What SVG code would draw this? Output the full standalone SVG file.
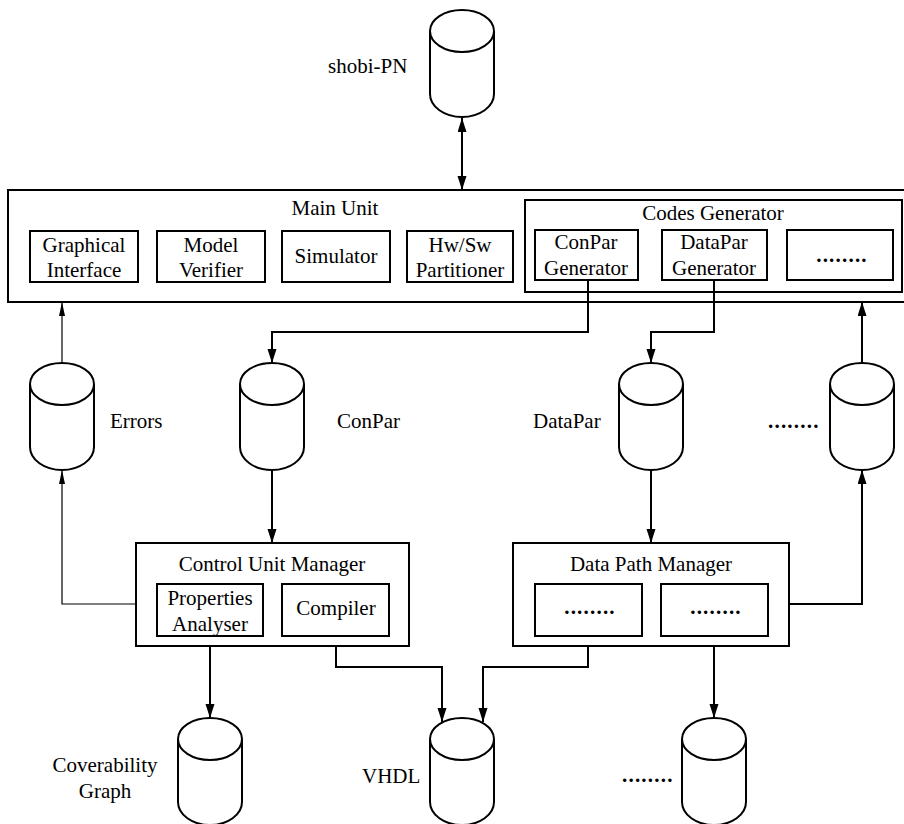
<svg xmlns="http://www.w3.org/2000/svg" width="904" height="824" viewBox="0 0 904 824">
<style>
  .box { fill: none; stroke: #000; stroke-width: 2; }
  .cyl { fill: #fff; stroke: #000; stroke-width: 2; }
  .t { font-family: "Liberation Serif", "Times New Roman", serif; font-size: 21px; fill: #000; }
  .c { text-anchor: middle; }
  .dots { letter-spacing: 1.2px; font-weight: bold; }
  .conn { fill: none; stroke: #000; stroke-width: 2; }
  .thin { fill: none; stroke: #000; stroke-width: 1.2; }
</style>
<defs>
  <marker id="ah" markerUnits="userSpaceOnUse" markerWidth="15" markerHeight="10" refX="14" refY="4.5" orient="auto-start-reverse">
    <path d="M0,0 L14,4.5 L0,9 z" fill="#000"/>
  </marker>
  <marker id="ahthin" markerUnits="userSpaceOnUse" markerWidth="15" markerHeight="8" refX="14" refY="3" orient="auto">
    <path d="M0,0 L14,3 L0,6 z" fill="#000"/>
  </marker>
  <symbol id="cylinder" overflow="visible">
    <path class="cyl" d="M-32,21 L-32,84 A32,23 0 0 0 32,84 L32,21"/>
    <ellipse class="cyl" cx="0" cy="21" rx="32" ry="21"/>
  </symbol>
</defs>

<g id="connectors">
  <path class="conn" d="M462,118 L462,190" marker-start="url(#ah)" marker-end="url(#ah)"/>
  <path class="thin" d="M62,363 L62,302" marker-end="url(#ahthin)"/>
  <path class="thin" d="M136,604 L62,604 L62,470" marker-end="url(#ahthin)"/>
  <path class="conn" d="M588,280 L588,332 L272,332 L272,363" marker-end="url(#ah)"/>
  <path class="conn" d="M714,280 L714,332 L651,332 L651,363" marker-end="url(#ah)"/>
  <path class="conn" d="M862,363 L862,302" marker-end="url(#ah)"/>
  <path class="conn" d="M789,604 L862,604 L862,470" marker-end="url(#ah)"/>
  <path class="conn" d="M272,470 L272,543" marker-end="url(#ah)"/>
  <path class="conn" d="M651,470 L651,543" marker-end="url(#ah)"/>
  <path class="conn" d="M210,646 L210,718" marker-end="url(#ah)"/>
  <path class="conn" d="M336,646 L336,667 L442,667 L442,722" marker-end="url(#ah)"/>
  <path class="conn" d="M588,646 L588,667 L483,667 L483,722" marker-end="url(#ah)"/>
  <path class="conn" d="M714,646 L714,718" marker-end="url(#ah)"/>
</g>

<g id="shobi-pn">
  <use href="#cylinder" x="462" y="10"/>
  <text class="t" x="328" y="73">shobi-PN</text>
</g>

<g id="main-unit">
  <rect class="box" x="8" y="190" width="900" height="112"/>
  <text class="t c" x="335" y="215">Main Unit</text>
</g>
<g id="graphical-interface">
  <rect class="box" x="30" y="231" width="108" height="51"/>
  <text class="t c" x="84" y="252">Graphical</text>
  <text class="t c" x="84" y="277">Interface</text>
</g>
<g id="model-verifier">
  <rect class="box" x="157" y="231" width="108" height="51"/>
  <text class="t c" x="211" y="252">Model</text>
  <text class="t c" x="211" y="277">Verifier</text>
</g>
<g id="simulator">
  <rect class="box" x="282" y="231" width="108" height="51"/>
  <text class="t c" x="336" y="263">Simulator</text>
</g>
<g id="hwsw-partitioner">
  <rect class="box" x="407" y="231" width="106" height="51"/>
  <text class="t c" x="460" y="252">Hw/Sw</text>
  <text class="t c" x="460" y="277">Partitioner</text>
</g>
<g id="codes-generator">
  <rect class="box" x="525" y="200" width="377" height="92"/>
  <text class="t c" x="713" y="220">Codes Generator</text>
</g>
<g id="conpar-generator">
  <rect class="box" x="535" y="230" width="103" height="50"/>
  <text class="t c" x="586" y="249">ConPar</text>
  <text class="t c" x="586" y="275">Generator</text>
</g>
<g id="datapar-generator">
  <rect class="box" x="662" y="230" width="105" height="50"/>
  <text class="t c" x="714" y="249">DataPar</text>
  <text class="t c" x="714" y="275">Generator</text>
</g>
<g id="other-generator">
  <rect class="box" x="787" y="230" width="106" height="50"/>
  <text class="t c dots" x="842" y="262">........</text>
</g>

<g id="errors">
  <use href="#cylinder" x="62" y="363"/>
  <text class="t" x="110" y="428">Errors</text>
</g>
<g id="conpar">
  <use href="#cylinder" x="272" y="363"/>
  <text class="t" x="337" y="428">ConPar</text>
</g>
<g id="datapar">
  <use href="#cylinder" x="651" y="363"/>
  <text class="t" x="533" y="428">DataPar</text>
</g>
<g id="other-par">
  <use href="#cylinder" x="862" y="363"/>
  <text class="t dots" x="768" y="428">........</text>
</g>

<g id="control-unit-manager">
  <rect class="box" x="136" y="543" width="273" height="103"/>
  <text class="t c" x="272" y="571">Control Unit Manager</text>
</g>
<g id="properties-analyser">
  <rect class="box" x="157" y="584" width="106" height="52"/>
  <text class="t c" x="210" y="605">Properties</text>
  <text class="t c" x="210" y="631">Analyser</text>
</g>
<g id="compiler">
  <rect class="box" x="282" y="584" width="107" height="52"/>
  <text class="t c" x="336" y="615">Compiler</text>
</g>

<g id="data-path-manager">
  <rect class="box" x="513" y="543" width="276" height="103"/>
  <text class="t c" x="651" y="571">Data Path Manager</text>
</g>
<g id="dpm-sub1">
  <rect class="box" x="535" y="584" width="107" height="52"/>
  <text class="t c dots" x="590" y="614">........</text>
</g>
<g id="dpm-sub2">
  <rect class="box" x="661" y="584" width="107" height="52"/>
  <text class="t c dots" x="716" y="614">........</text>
</g>

<g id="coverability-graph">
  <use href="#cylinder" x="210" y="718"/>
  <text class="t c" x="105" y="772">Coverability</text>
  <text class="t c" x="105" y="798">Graph</text>
</g>
<g id="vhdl">
  <use href="#cylinder" x="462" y="718"/>
  <text class="t" x="362" y="783">VHDL</text>
</g>
<g id="other-output">
  <use href="#cylinder" x="714" y="718"/>
  <text class="t dots" x="622" y="782">........</text>
</g>
</svg>
